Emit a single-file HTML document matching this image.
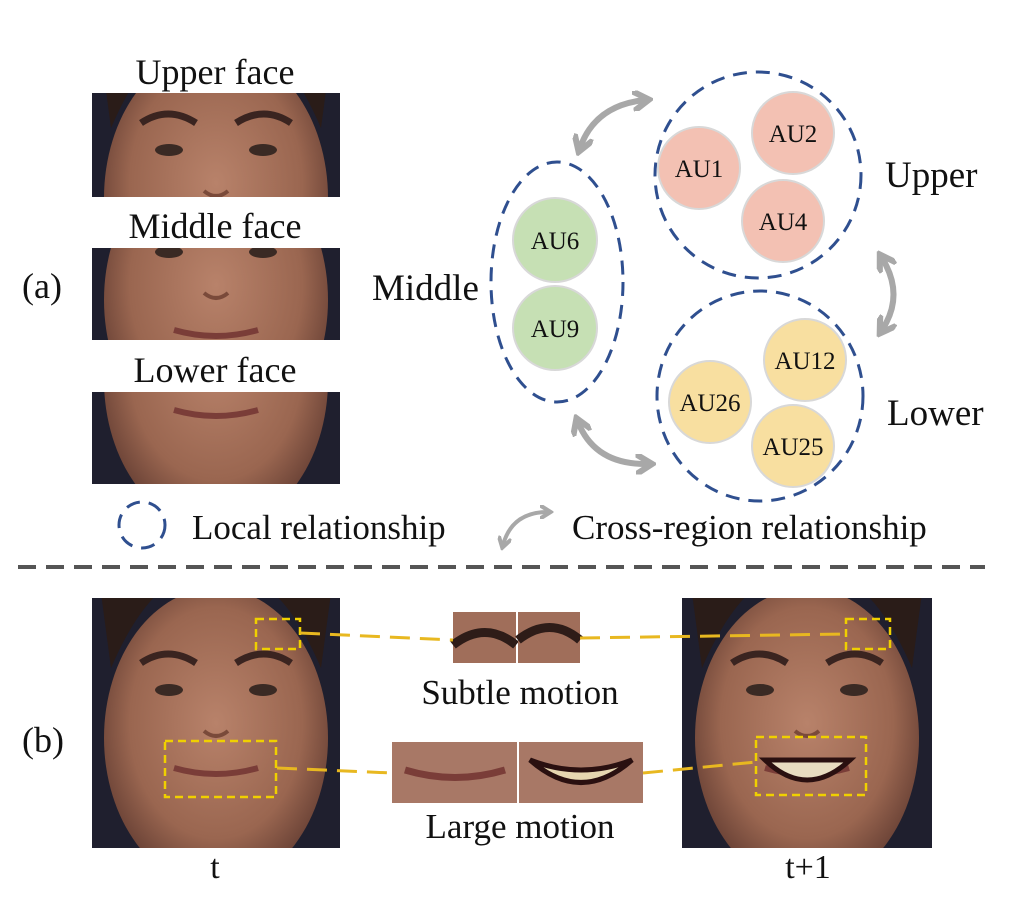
<!DOCTYPE html>
<html><head><meta charset="utf-8"><style>
body{margin:0;background:#fff;}
svg{display:block;}
text{font-family:"Liberation Serif",serif;fill:#111;}
</style></head><body>
<svg width="1023" height="920" viewBox="0 0 1023 920">
<defs>
<radialGradient id="skin" cx="50%" cy="45%" r="55%">
<stop offset="0" stop-color="#b8826a"/><stop offset="0.7" stop-color="#9a6650"/><stop offset="1" stop-color="#6a4236"/>
</radialGradient>
<clipPath id="c1"><rect x="92" y="93" width="248" height="104"/></clipPath>
<clipPath id="c2"><rect x="92" y="248" width="248" height="92"/></clipPath>
<clipPath id="c3"><rect x="92" y="392" width="248" height="92"/></clipPath>
<clipPath id="c4"><rect x="92" y="598" width="248" height="250"/></clipPath>
<clipPath id="c5"><rect x="682" y="598" width="250" height="250"/></clipPath>
<marker id="ah" viewBox="0 0 10 10" refX="6" refY="5" markerWidth="3.4" markerHeight="3.4" orient="auto-start-reverse"><path d="M0,0 L8,5 L0,10" fill="none" stroke="#a8a8a8" stroke-width="3"/></marker>
<g id="face">
<rect x="-130" y="-130" width="260" height="260" fill="#1f1f2e"/>
<ellipse cx="0" cy="15" rx="112" ry="150" fill="url(#skin)"/>
<path d="M-105,-55 Q-60,-160 0,-150 Q60,-160 105,-55 L115,-130 L-115,-130Z" fill="#2a1c18"/>
<path d="M-75,-60 Q-48,-78 -20,-60" stroke="#3a2420" stroke-width="7" fill="none"/>
<path d="M20,-60 Q48,-78 75,-60" stroke="#3a2420" stroke-width="7" fill="none"/>
<ellipse cx="-47" cy="-33" rx="14" ry="6" fill="#3a2a24"/>
<ellipse cx="47" cy="-33" rx="14" ry="6" fill="#3a2a24"/>
<path d="M-12,8 Q0,18 12,8" stroke="#7a4a3a" stroke-width="4" fill="none"/>
<path d="M-42,45 Q0,57 42,45" stroke="#7a3d38" stroke-width="6" fill="none"/>
</g>
</defs>

<text x="215" y="84" font-size="36" text-anchor="middle">Upper face</text>
<text x="215" y="238" font-size="36" text-anchor="middle">Middle face</text>
<text x="215" y="382" font-size="36" text-anchor="middle">Lower face</text>
<text x="22" y="298" font-size="36">(a)</text>

<g clip-path="url(#c1)"><use href="#face" transform="translate(216,183)"/></g>
<g clip-path="url(#c2)"><use href="#face" transform="translate(216,285)"/></g>
<g clip-path="url(#c3)"><use href="#face" transform="translate(216,365)"/></g>

<g fill="none" stroke="#2f4f8f" stroke-width="3" stroke-dasharray="14,9">
<circle cx="758" cy="175" r="103"/>
<ellipse cx="557" cy="282" rx="66" ry="120"/>
<ellipse cx="760" cy="396" rx="103" ry="105"/>
<circle cx="142" cy="525" r="23"/>
</g>
<g stroke="#d8d8d8" stroke-width="2">
<circle cx="699" cy="168" r="41" fill="#f3c1b3"/>
<circle cx="793" cy="133" r="41" fill="#f3c1b3"/>
<circle cx="783" cy="221" r="41" fill="#f3c1b3"/>
<circle cx="555" cy="240" r="42" fill="#c6e0b4"/>
<circle cx="555" cy="328" r="42" fill="#c6e0b4"/>
<circle cx="805" cy="360" r="41" fill="#f8dfa0"/>
<circle cx="710" cy="402" r="41" fill="#f8dfa0"/>
<circle cx="793" cy="446" r="41" fill="#f8dfa0"/>
</g>
<g font-size="25" text-anchor="middle">
<text x="699" y="177">AU1</text><text x="793" y="142">AU2</text><text x="783" y="230">AU4</text>
<text x="555" y="249">AU6</text><text x="555" y="337">AU9</text>
<text x="805" y="369">AU12</text><text x="710" y="411">AU26</text><text x="793" y="455">AU25</text>
</g>
<text x="885" y="187" font-size="37">Upper</text>
<text x="372" y="300" font-size="37">Middle</text>
<text x="887" y="425" font-size="37">Lower</text>

<g fill="none" stroke="#a8a8a8" stroke-width="6" marker-start="url(#ah)" marker-end="url(#ah)">
<path d="M580,148 Q595,105 645,100"/>
<path d="M882,258 Q905,295 882,330"/>
<path d="M578,422 Q595,465 648,464"/>
<path d="M503,545 Q512,512 548,512" stroke-width="4"/>
</g>
<text x="192" y="539" font-size="35">Local relationship</text>
<text x="572" y="539" font-size="35">Cross-region relationship</text>

<line x1="18" y1="567" x2="985" y2="567" stroke="#555" stroke-width="4" stroke-dasharray="18,10"/>

<text x="22" y="752" font-size="36">(b)</text>
<g clip-path="url(#c4)"><use href="#face" transform="translate(216,723)"/></g>
<g clip-path="url(#c5)"><use href="#face" transform="translate(807,723)"/>
<path d="M765,760 Q807,800 850,760 Z" fill="#e8dcc0" stroke="#2a1010" stroke-width="5"/></g>
<text x="215" y="878" font-size="34" text-anchor="middle">t</text>
<text x="808" y="878" font-size="34" text-anchor="middle">t+1</text>

<rect x="453" y="612" width="63" height="51" fill="#a06e5a"/>
<path d="M453,645 Q485,620 516,645" stroke="#2e1c18" stroke-width="9" fill="none"/>
<rect x="518" y="612" width="62" height="51" fill="#a06e5a"/>
<path d="M518,640 Q550,615 580,640" stroke="#2e1c18" stroke-width="9" fill="none"/>
<rect x="392" y="742" width="125" height="61" fill="#a87866"/>
<path d="M405,770 Q455,785 505,770" stroke="#7a3d38" stroke-width="7" fill="none"/>
<rect x="519" y="742" width="124" height="61" fill="#a87866"/>
<path d="M530,760 Q581,805 632,760 Q581,780 530,760Z" fill="#e6d6b0" stroke="#2a1010" stroke-width="5"/>
<text x="520" y="704" font-size="35" text-anchor="middle">Subtle motion</text>
<text x="520" y="838" font-size="35" text-anchor="middle">Large motion</text>

<g fill="none" stroke="#f0d000" stroke-width="2.5" stroke-dasharray="8,5">
<rect x="256" y="619" width="44" height="30"/>
<rect x="165" y="741" width="111" height="56"/>
<rect x="846" y="619" width="44" height="30"/>
<rect x="756" y="737" width="110" height="58"/>
</g>
<g stroke="#e8b820" stroke-width="3" stroke-dasharray="20,10" fill="none">
<line x1="300" y1="633" x2="453" y2="640"/>
<line x1="580" y1="638" x2="846" y2="634"/>
<line x1="277" y1="768" x2="392" y2="773"/>
<line x1="643" y1="773" x2="756" y2="762"/>
</g>
</svg>
</body></html>
